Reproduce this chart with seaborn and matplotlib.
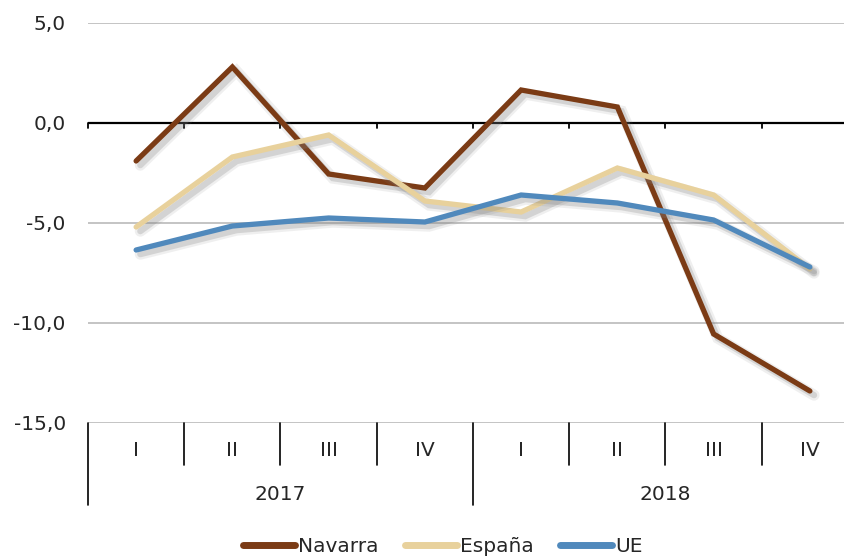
import numpy as np
import pandas as pd
import matplotlib
matplotlib.use("Agg")
import matplotlib.pyplot as plt
import matplotlib.patheffects as pe
from matplotlib.ticker import FuncFormatter
import seaborn as sns

# Datos (tasa de variación, %)
trimestres = ["I", "II", "III", "IV", "I", "II", "III", "IV"]
anios = ["2017", "2018"]
navarra = [-1.9, 2.8, -2.55, -3.25, 1.65, 0.8, -10.55, -13.4]
espana = [-5.2, -1.7, -0.6, -3.9, -4.45, -2.25, -3.6, -7.3]
ue = [-6.35, -5.15, -4.75, -4.95, -3.6, -4.0, -4.85, -7.2]

series = ["Navarra", "España", "UE"]
colores = {"Navarra": "#7B3B15", "España": "#E8D19C", "UE": "#5089BC"}

df = pd.DataFrame({
    "pos": list(range(8)) * 3,
    "valor": navarra + espana + ue,
    "serie": np.repeat(series, 8),
})

sns.set_style("white")
plt.rcParams["font.family"] = ["DejaVu Sans"]
fs = 14.5

fig = plt.figure(figsize=(8.45, 5.58), dpi=100)
ax = fig.add_axes([88 / 845, 1 - 423 / 558, 770 / 845, 400 / 558])

sns.lineplot(data=df, x="pos", y="valor", hue="serie", palette=colores,
             hue_order=series, linewidth=3.8, ax=ax, legend=False, zorder=3)

# sombra difusa aproximada con dos capas
sombra = [pe.SimpleLineShadow(offset=(3, -3), shadow_color="#808080", alpha=0.12, linewidth=8),
          pe.SimpleLineShadow(offset=(3, -3), shadow_color="#808080", alpha=0.25, linewidth=4.5),
          pe.Normal()]
for ln in ax.get_lines():
    ln.set_path_effects(sombra)
    ln.set_solid_capstyle("round")
    ln.set_solid_joinstyle("miter")

ax.set_xlim(-0.5, 7.5)
ax.set_ylim(-15, 5)
ax.set_yticks([5, 0, -5, -10, -15])
ax.yaxis.set_major_formatter(FuncFormatter(lambda v, p: f"{v:.1f}".replace(".", ",")))
ax.tick_params(axis="y", length=0, pad=16, labelsize=fs)
ax.set_xticks([])
ax.set_xlabel("")
ax.set_ylabel("")
for s in ax.spines.values():
    s.set_visible(False)
ax.yaxis.grid(True, color="#BFBFBF", linewidth=1.3)
ax.set_axisbelow(True)

# Eje en cero con marcas
ax.axhline(0, color="black", linewidth=1.6, zorder=2)
for b in np.arange(-0.5, 8.0, 1.0):
    ax.plot([b, b], [0, -0.25], color="black", linewidth=1.3, clip_on=False, zorder=2)

# Etiquetas de categoría en dos niveles
tr = ax.get_xaxis_transform()
px = 1 / 400  # un píxel en coordenadas del eje
for i, t in enumerate(trimestres):
    ax.text(i, -28 * px, t, transform=tr, ha="center", va="center", fontsize=fs)
for b in np.arange(-0.5, 8.0, 1.0):
    largo = 82 if b in (-0.5, 3.5, 7.5) else 42
    ax.plot([b, b], [0, -largo * px], transform=tr, color="black",
            linewidth=1.2, clip_on=False)
for j, a in enumerate(anios):
    ax.text(1.5 + 4 * j, -71 * px, a, transform=tr, ha="center", va="center", fontsize=fs)

# Leyenda
handles = [plt.Line2D([], [], color=colores[s], linewidth=5, solid_capstyle="round")
           for s in series]
fig.legend(handles, series, loc="center", bbox_to_anchor=(0.524, 0.02), ncol=3,
           frameon=False, fontsize=fs, handlelength=2.6, handletextpad=0.15,
           columnspacing=1.3)

fig.savefig("out.png", dpi=100)
